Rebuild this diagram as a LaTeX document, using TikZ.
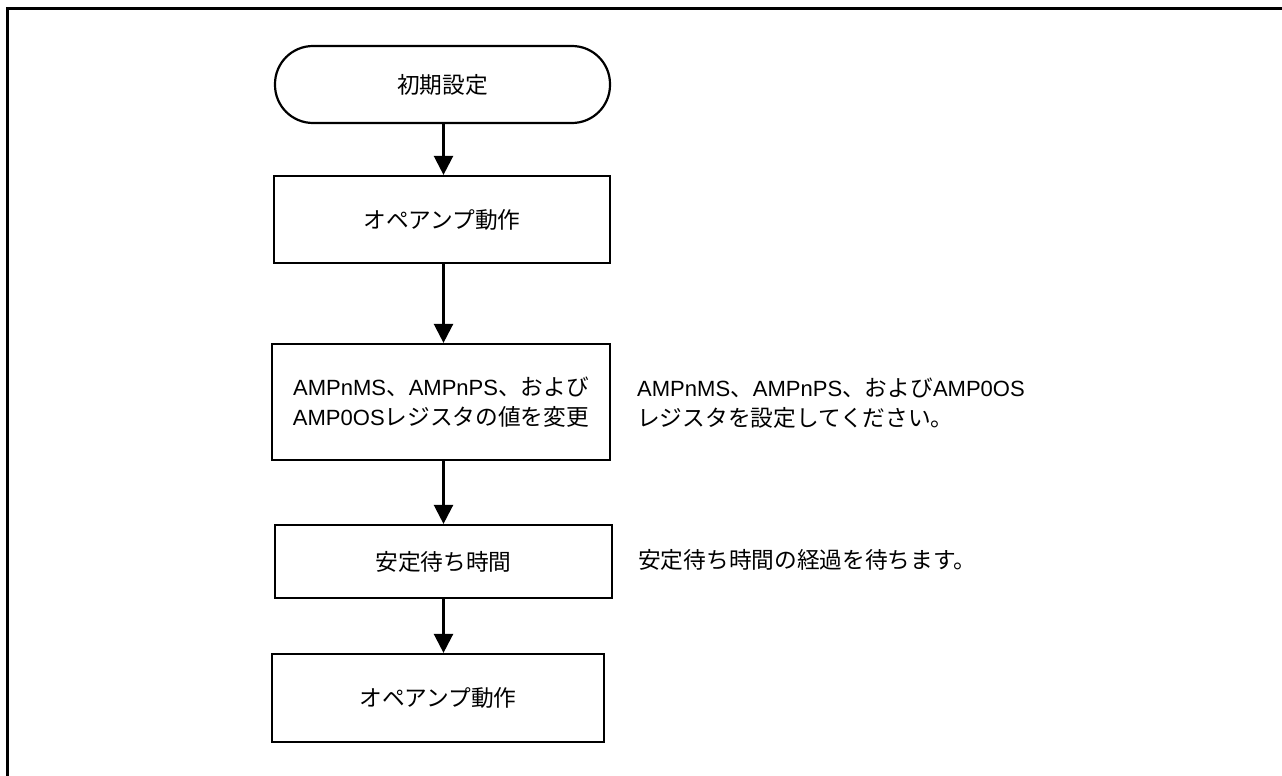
\documentclass[tikz,border=0pt]{standalone}
\usepackage{fontspec}
\setmainfont{Noto Sans CJK JP}
\newfontfamily\lat[Scale=0.97]{Liberation Sans}
\usetikzlibrary{arrows.meta}
\tikzset{
  txt/.style={font=\fontsize{22.7}{30}\selectfont},
  stepbox/.style={draw, line width=2.2pt, align=center, inner sep=0pt, txt},
  termbox/.style={stepbox, rounded corners=38pt},
  note/.style={anchor=west, align=left, inner sep=0pt, txt},
  arr/.style={line width=2.4pt, -{Triangle[length=19pt,width=19pt]}},
  frame/.style={line width=3pt}
}
\begin{document}
\begin{tikzpicture}[x=1pt,y=-1pt]
\useasboundingbox (0,0) rectangle (1282,776);
\draw[frame] (7.5,776) -- (7.5,8.5) -- (1282,8.5);

\node[termbox, minimum width=335pt, minimum height=77pt] (t1) at (442.5,84.5) {初期設定};
\node[stepbox, minimum width=336pt, minimum height=87pt] (b2) at (442,219.5) {オペアンプ動作};
\node[stepbox, minimum width=338pt, minimum height=116pt] (b3) at (441,402) {{\lat AMPnMS}、{\lat AMPnPS}、および\\{\lat AMP0OS}レジスタの値を変更};
\node[stepbox, minimum width=337pt, minimum height=73pt] (b4) at (443.5,561.5) {安定待ち時間};
\node[stepbox, minimum width=332pt, minimum height=88pt] (b5) at (438,698) {オペアンプ動作};

\node[note] (n1) at (637,403) {{\lat AMPnMS}、{\lat AMPnPS}、および{\lat AMP0OS}\\レジスタを設定してください。};
\node[note] (n2) at (638,560) {安定待ち時間の経過を待ちます。};

\draw[arr] (t1.south -| b4.south) -- (b2.north -| b4.south);
\draw[arr] (b2.south -| b4.south) -- (b3.north -| b4.south);
\draw[arr] (b3.south -| b4.south) -- (b4.north -| b4.south);
\draw[arr] (b4.south) -- (b4.south |- b5.north);
\end{tikzpicture}
\end{document}
